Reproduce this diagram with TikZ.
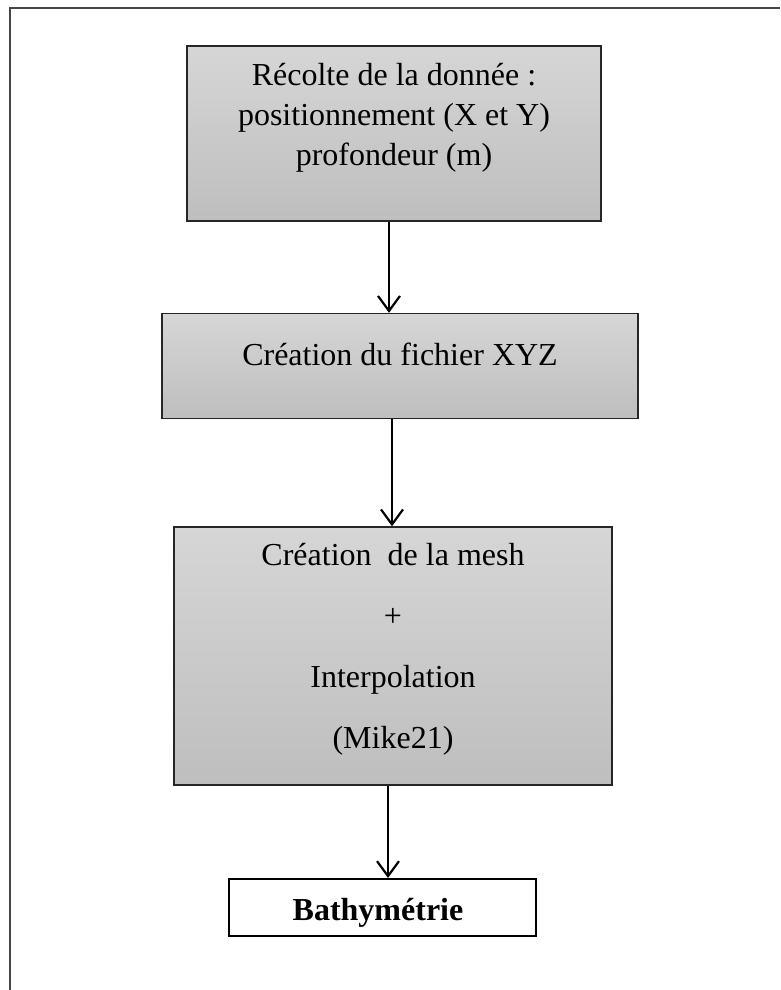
\documentclass[tikz,border=0pt]{standalone}
\usepackage{fontspec}
\setmainfont{Liberation Serif}
\usetikzlibrary{arrows.meta}
\definecolor{boxtop}{RGB}{214,214,214}
\definecolor{boxbot}{RGB}{190,190,190}
\definecolor{framegray}{RGB}{70,70,70}
\tikzset{
  stepbox/.style={draw=black!85, line width=1.4pt, top color=boxtop, bottom color=boxbot, inner sep=0pt},
  endbox/.style={draw=black, line width=2pt, fill=white, inner sep=0pt},
  flow/.style={line width=2.2pt, -{Straight Barb[length=15pt,width=22pt]}},
  txt/.style={font=\fontsize{32}{40}\selectfont, align=center, inner sep=0pt}
}

\begin{document}
\begin{tikzpicture}[x=1pt,y=-1pt]
			%%%%% START %%%%%
			\useasboundingbox (0,0) rectangle (780,990);
			
			% cadre
			\draw[line width=2pt, color=framegray] (10,990) -- (10,8) -- (780,8);
			
			% boites
			\node[stepbox, minimum width=414pt, minimum height=175pt] (recolte) at (394,133.5) {};
			\node[txt] (trecolte) at (394,118) {R\'ecolte de la donn\'ee :\\positionnement (X et Y)\\profondeur (m)};
			
			\node[stepbox, minimum width=476pt, minimum height=105pt] (fichier) at (400,366) {};
			\node[txt] (tfichier) at (400,354) {Cr\'eation du fichier XYZ};
			
			\node[stepbox, minimum width=438pt, minimum height=258pt] (mesh) at (393,656) {};
			\node[txt, font=\fontsize{32}{61}\selectfont] (tmesh) at (393,649) {Cr\'eation\ \ de la mesh\\+\\Interpolation\\(Mike21)};
			
			\node[endbox, minimum width=307pt, minimum height=57pt] (bathy) at (382.5,907.5) {};
			\node[txt, font=\fontsize{32}{40}\selectfont\bfseries] (tbathy) at (378,912.5) {Bathym\'etrie};
			
			% fleches
			\draw[flow] (389,0 |- recolte.south) -- (389,0 |- fichier.north);
			\draw[flow] (392,0 |- fichier.south) -- (392,0 |- mesh.north);
			\draw[flow] (388,0 |- mesh.south) -- (388,0 |- bathy.north);
			
			%%%%% END %%%%%
\end{tikzpicture}
\end{document}
